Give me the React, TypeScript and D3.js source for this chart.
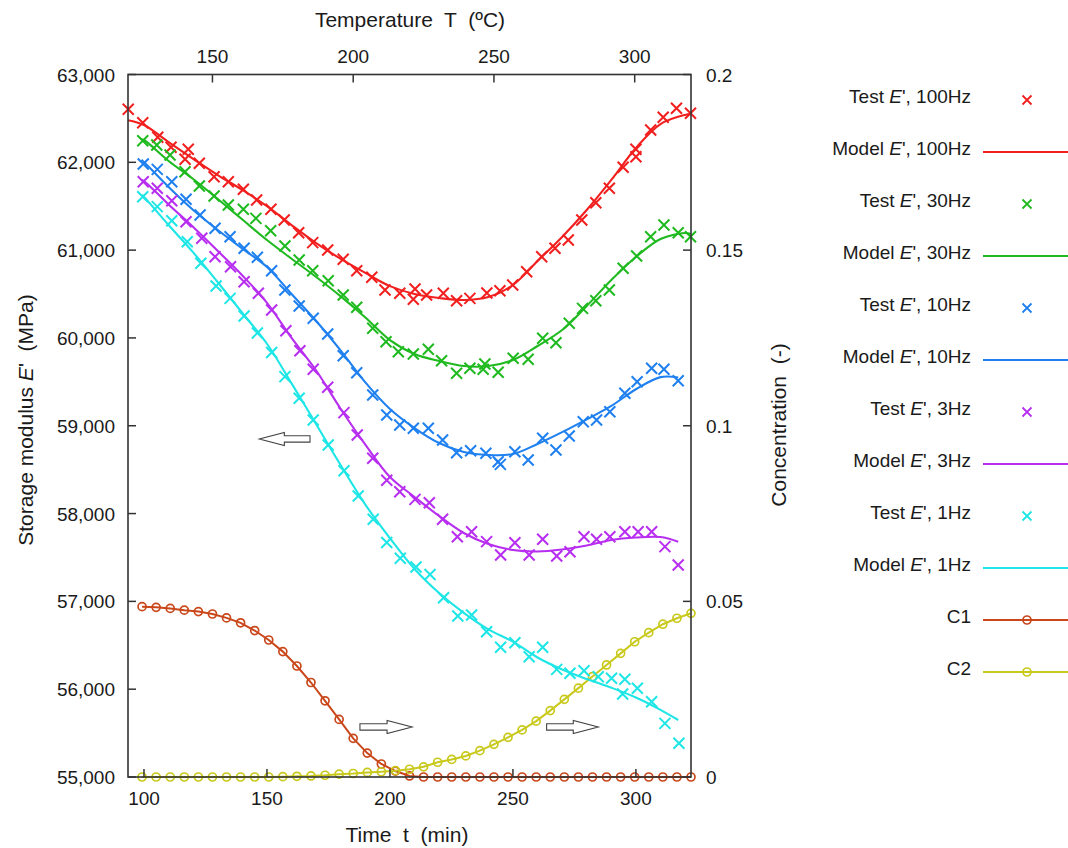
import React from "react";
import * as d3 from "d3";

// ---------- data ----------
const timeTicks = [100, 150, 200, 250, 300];
const tempTicks = [150, 200, 250, 300];
const eTicks = [55000, 56000, 57000, 58000, 59000, 60000, 61000, 62000, 63000];
const cTicks = [0, 0.05, 0.1, 0.15, 0.2];

const test100: [number, number][] = [
  [93.6, 62604], [99.5, 62451], [105.6, 62285], [111.0, 62171], [116.7, 62034], [118.0, 62148],
  [122.5, 61989], [128.5, 61836], [134.3, 61779], [140.4, 61693], [145.8, 61571], [151.6, 61465],
  [157.0, 61343], [162.9, 61198], [168.6, 61085], [174.7, 61001], [181.0, 60896], [186.5, 60766],
  [192.6, 60691], [198.0, 60546], [204.0, 60508], [209.5, 60440], [210.2, 60557], [214.9, 60489],
  [221.7, 60508], [227.1, 60424], [232.5, 60451], [239.4, 60512], [244.7, 60538], [249.9, 60603],
  [255.6, 60754], [261.7, 60925], [267.1, 61021], [272.5, 61115], [278.0, 61343], [283.7, 61540],
  [289.2, 61704], [294.8, 61943], [300.0, 62148], [300.0, 62064], [306.0, 62368], [311.1, 62513],
  [316.5, 62615], [322.2, 62558],
];
const model100: [number, number][] = [
  [93.5, 62480], [100, 62425], [110, 62230], [120, 62040], [130, 61855], [140, 61685], [150, 61500],
  [160, 61285], [170, 61080], [180, 60900], [190, 60740], [200, 60590], [210, 60500], [220, 60455],
  [230, 60432], [240, 60466], [250, 60603], [260, 60876], [270, 61150], [280, 61457], [290, 61800],
  [300, 62163], [310, 62436], [320, 62540], [322.3, 62550],
];

const test30: [number, number][] = [
  [99.5, 62246], [105.2, 62197], [110.6, 62083], [116.7, 61893], [122.5, 61730], [128.5, 61616],
  [134.3, 61514], [140.4, 61465], [145.5, 61362], [151.5, 61221], [157.3, 61047], [163.1, 60888],
  [168.6, 60766], [174.9, 60652], [181.0, 60489], [186.5, 60349], [193.0, 60110], [198.4, 59957],
  [203.4, 59843], [209.5, 59817], [215.6, 59871], [221.0, 59741], [227.1, 59597], [232.5, 59654],
  [237.9, 59643], [238.6, 59703], [244.0, 59609], [250.1, 59768], [256.2, 59757], [262.1, 59996],
  [267.5, 59946], [272.9, 60167], [278.3, 60337], [283.7, 60424], [289.2, 60546], [294.8, 60793],
  [300.3, 60933], [306.0, 61153], [311.4, 61286], [317.2, 61198], [322.2, 61153],
];
const model30: [number, number][] = [
  [98.5, 62266], [100, 62254], [110, 62015], [120, 61810], [130, 61582], [140, 61348], [150, 61115],
  [160, 60902], [170, 60694], [180, 60473], [190, 60233], [200, 59976], [210, 59817], [220, 59737],
  [230, 59680], [240, 59680], [250, 59749], [260, 59908], [270, 60090], [280, 60364], [290, 60660],
  [300, 60922], [310, 61127], [320, 61195], [322.3, 61184],
];

const test10: [number, number][] = [
  [99.7, 61981], [105.4, 61920], [111.3, 61779], [117.1, 61579], [122.8, 61400], [128.9, 61249],
  [135.0, 61153], [140.7, 61021], [146.1, 60918], [151.9, 60766], [157.3, 60546], [163.1, 60364],
  [168.8, 60224], [174.7, 60045], [181.0, 59797], [186.5, 59604], [193.0, 59350], [198.7, 59122],
  [204.0, 59009], [209.5, 58971], [215.6, 58971], [221.4, 58838], [227.1, 58693], [232.8, 58716],
  [239.0, 58686], [244.0, 58590], [244.9, 58560], [250.8, 58704], [256.2, 58610], [262.1, 58857],
  [267.5, 58724], [272.9, 58883], [278.6, 59046], [284.0, 59065], [289.4, 59160], [295.5, 59370],
  [300.5, 59502], [306.4, 59654], [311.4, 59643], [317.2, 59513],
];
const model10: [number, number][] = [
  [99, 62030], [100, 62004], [110, 61719], [120, 61457], [130, 61229], [140, 61018], [150, 60808],
  [160, 60500], [170, 60193], [180, 59856], [190, 59494], [200, 59191], [210, 58974], [220, 58803],
  [230, 58701], [240, 58667], [250, 58678], [260, 58792], [270, 58927], [280, 59073], [290, 59226],
  [300, 59416], [310, 59554], [317.2, 59550],
];

const test3: [number, number][] = [
  [99.7, 61779], [105.4, 61704], [111.3, 61563], [117.1, 61324], [123.5, 61135], [128.9, 60925],
  [135.2, 60811], [140.7, 60640], [146.5, 60508], [151.9, 60318], [157.7, 60081], [163.4, 59855],
  [168.8, 59643], [174.7, 59438], [181.3, 59149], [186.7, 58895], [193.0, 58629], [198.7, 58379],
  [204.0, 58249], [210.2, 58162], [216.0, 58124], [221.4, 57935], [227.4, 57736], [233.2, 57793],
  [239.3, 57680], [245.0, 57528], [250.8, 57668], [256.6, 57528], [262.1, 57707], [267.8, 57517],
  [273.2, 57566], [278.9, 57736], [284.0, 57707], [289.4, 57736], [295.5, 57793], [300.9, 57793],
  [306.4, 57793], [311.8, 57623], [317.2, 57414],
];
const model3: [number, number][] = [
  [99.1, 61797], [100, 61787], [110, 61520], [120, 61263], [130, 60990], [140, 60711], [150, 60400],
  [160, 60000], [170, 59629], [180, 59191], [190, 58784], [200, 58416], [210, 58189], [220, 57972],
  [230, 57779], [240, 57653], [250, 57585], [260, 57568], [270, 57591], [280, 57636], [290, 57699],
  [300, 57727], [310, 57733], [317.2, 57680],
];

const test1: [number, number][] = [
  [99.5, 61608], [105.4, 61495], [111.3, 61335], [117.6, 61096], [123.1, 60850], [129.3, 60591],
  [135.0, 60451], [140.7, 60250], [146.1, 60056], [151.9, 59834], [157.3, 59559], [163.1, 59313],
  [168.8, 59065], [174.9, 58781], [181.3, 58488], [187.1, 58200], [193.2, 57935], [198.7, 57670],
  [204.2, 57491], [210.6, 57391], [216.3, 57306], [221.8, 57041], [227.6, 56833], [233.2, 56845],
  [239.3, 56655], [245.0, 56477], [250.8, 56529], [256.6, 56370], [262.1, 56477], [267.8, 56226],
  [273.2, 56181], [278.9, 56210], [284.7, 56142], [290.1, 56124], [294.6, 55945], [295.5, 56113],
  [300.6, 56010], [306.4, 55857], [311.8, 55611], [317.5, 55384],
];
const model1: [number, number][] = [
  [99.1, 61625], [100, 61605], [110, 61286], [120, 60974], [130, 60634], [140, 60284], [150, 59934],
  [160, 59483], [170, 59018], [180, 58550], [190, 58102], [200, 57719], [210, 57369], [220, 57095],
  [230, 56870], [240, 56682], [250, 56541], [260, 56361], [270, 56224], [280, 56116], [290, 56017],
  [300, 55905], [310, 55765], [317.2, 55649],
];

// concentrations, sampled every 5 °C
const concTemps = [
  125, 130, 135, 140, 145, 150, 155, 160, 165, 170, 175, 180, 185, 190, 195, 200, 205, 210, 215, 220,
  225, 230, 235, 240, 245, 250, 255, 260, 265, 270, 275, 280, 285, 290, 295, 300, 305, 310, 315, 320,
];
const c1 = [
  0.0485, 0.0483, 0.048, 0.0475, 0.0471, 0.0464, 0.0453, 0.0439, 0.0417, 0.039, 0.0357, 0.0316,
  0.0269, 0.0217, 0.0164, 0.011, 0.0068, 0.0037, 0.0017, 0.0003, 0, 0, 0, 0, 0, 0, 0, 0, 0, 0, 0, 0,
  0, 0, 0, 0, 0, 0, 0, 0,
];
const c2 = [
  0, 0, 0, 0, 0, 0, 0, 0, 0, 0, 0.0001, 0.0002, 0.0003, 0.0005, 0.0008, 0.001, 0.0013, 0.0015,
  0.0018, 0.0022, 0.0029, 0.0042, 0.005, 0.006, 0.0075, 0.0093, 0.0113, 0.0134, 0.0159, 0.0189,
  0.0221, 0.0253, 0.0286, 0.0319, 0.0352, 0.0385, 0.0411, 0.0435, 0.0452, 0.0466,
];

// annotation arrows (time from -> time to, at a storage-modulus level)
const arrows = [
  { from: 167.5, to: 146.9, e: 58850 },
  { from: 187.8, to: 209.0, e: 55570 },
  { from: 263.7, to: 284.7, e: 55570 },
];

const COL = {
  r: "#f21f1f",
  g: "#1fba1f",
  b: "#1f80f0",
  p: "#b82ef0",
  c: "#1ee6e6",
  c1: "#c9471a",
  c2: "#c9c91c",
};

const series = [
  { test: test100, model: model100, color: COL.r, hz: "100Hz" },
  { test: test30, model: model30, color: COL.g, hz: "30Hz" },
  { test: test10, model: model10, color: COL.b, hz: "10Hz" },
  { test: test3, model: model3, color: COL.p, hz: "3Hz" },
  { test: test1, model: model1, color: COL.c, hz: "1Hz" },
];

// ---------- layout ----------
const W = 1068;
const H = 848;
const PL = 128;
const PR = 691;
const PT = 74.5;
const PB = 777;
const FONT = "'Liberation Sans', Arial, Helvetica, sans-serif";
const AX = "#333";
const TXT = "#1a1a1a";

const xTime = d3.scaleLinear().domain([93.5, 322.4]).range([PL, PR]);
const xTemp = d3.scaleLinear().domain([120, 320]).range([PL, PR]);
const yE = d3.scaleLinear().domain([55000, 63000]).range([PB, PT]);
const yC = d3.scaleLinear().domain([0, 0.2]).range([PB, PT]);

const modelLine = d3
  .line<[number, number]>()
  .x((d) => xTime(d[0]))
  .y((d) => yE(d[1]))
  .curve(d3.curveCatmullRom.alpha(0.5));

const concLine = d3
  .line<number>()
  .x((_, i) => xTemp(concTemps[i]))
  .y((d) => yC(d));

const fmtE = d3.format(",");

const Cross = ({ x, y, color, s = 5.5, w = 2 }: { x: number; y: number; color: string; s?: number; w?: number }) => (
  <path
    d={`M${x - s},${y - s}L${x + s},${y + s}M${x - s},${y + s}L${x + s},${y - s}`}
    stroke={color}
    strokeWidth={w}
    fill="none"
  />
);

function arrowPath(x0: number, x1: number, y: number) {
  const dir = Math.sign(x1 - x0);
  const head = 25;
  const hb = x1 - dir * head;
  const sh = 3.2;
  const hh = 6.5;
  return `M${x0},${y - sh}L${hb},${y - sh}L${hb},${y - hh}L${x1},${y}L${hb},${y + hh}L${hb},${y + sh}L${x0},${y + sh}Z`;
}

const legendItems: { label: string; prefix: string; kind: string; color: string }[] = [];
series.forEach((s) => {
  legendItems.push({ label: s.hz, prefix: "Test", kind: "x", color: s.color });
  legendItems.push({ label: s.hz, prefix: "Model", kind: "line", color: s.color });
});

export default function App() {
  const legY0 = 100;
  const legDy = 52;
  return (
    <svg
      width={W}
      height={H}
      viewBox={`0 0 ${W} ${H}`}
      style={{ position: "absolute", left: 0, top: 0, background: "#fff" }}
      fontFamily={FONT}
    >
      <rect x={0} y={0} width={W} height={H} fill="#fff" />

      {/* concentration curves */}
      <path d={concLine(c1) || ""} fill="none" stroke={COL.c1} strokeWidth={2} />
      {c1.map((v, i) => (
        <circle key={"c1" + i} cx={xTemp(concTemps[i])} cy={yC(v)} r={4} fill="none" stroke={COL.c1} strokeWidth={1.7} />
      ))}
      <path d={concLine(c2) || ""} fill="none" stroke={COL.c2} strokeWidth={2} />
      {c2.map((v, i) => (
        <circle key={"c2" + i} cx={xTemp(concTemps[i])} cy={yC(v)} r={4} fill="none" stroke={COL.c2} strokeWidth={1.7} />
      ))}

      {/* modulus series */}
      {series.map((s, si) => (
        <g key={"s" + si}>
          {s.test.map((d, i) => (
            <Cross key={i} x={xTime(d[0])} y={yE(d[1])} color={s.color} />
          ))}
          <path d={modelLine(s.model) || ""} fill="none" stroke={s.color} strokeWidth={2.1} />
        </g>
      ))}

      {/* arrows */}
      {arrows.map((a, i) => (
        <path key={"a" + i} d={arrowPath(xTime(a.from), xTime(a.to), yE(a.e))} fill="#fff" stroke="#444" strokeWidth={1.1} />
      ))}

      {/* frame */}
      <rect x={PL} y={PT} width={PR - PL} height={PB - PT} fill="none" stroke={AX} strokeWidth={1.6} />

      {/* left axis */}
      {eTicks.map((v) => (
        <g key={"e" + v}>
          <line x1={PL} x2={PL + 8} y1={yE(v)} y2={yE(v)} stroke={AX} strokeWidth={1.5} />
          <text x={115} y={yE(v) + 7} textAnchor="end" fontSize={19} fill={TXT}>
            {fmtE(v)}
          </text>
        </g>
      ))}
      {/* right axis */}
      {cTicks.map((v) => (
        <g key={"c" + v}>
          <line x1={PR - 8} x2={PR} y1={yC(v)} y2={yC(v)} stroke={AX} strokeWidth={1.5} />
          <text x={706} y={yC(v) + 7} textAnchor="start" fontSize={19} fill={TXT}>
            {String(v)}
          </text>
        </g>
      ))}
      {/* bottom axis */}
      {timeTicks.map((v) => (
        <g key={"t" + v}>
          <line x1={xTime(v)} x2={xTime(v)} y1={PB} y2={PB - 8} stroke={AX} strokeWidth={1.5} />
          <text x={xTime(v)} y={805} textAnchor="middle" fontSize={19} fill={TXT}>
            {v}
          </text>
        </g>
      ))}
      {/* top axis */}
      {tempTicks.map((v) => (
        <g key={"T" + v}>
          <line x1={xTemp(v)} x2={xTemp(v)} y1={PT} y2={PT + 8} stroke={AX} strokeWidth={1.5} />
          <text x={xTemp(v)} y={63} textAnchor="middle" fontSize={19} fill={TXT}>
            {v}
          </text>
        </g>
      ))}

      {/* axis titles */}
      <text x={410} y={27} textAnchor="middle" fontSize={21} fill={TXT} style={{ whiteSpace: "pre" }}>
        {"Temperature  T  (ºC)"}
      </text>
      <text x={407} y={842} textAnchor="middle" fontSize={21} fill={TXT} style={{ whiteSpace: "pre" }}>
        {"Time  t  (min)"}
      </text>
      <text
        transform={`translate(33,420) rotate(-90)`}
        textAnchor="middle"
        fontSize={21}
        fill={TXT}
        style={{ whiteSpace: "pre" }}
      >
        <tspan>{"Storage modulus "}</tspan>
        <tspan fontStyle="italic">E</tspan>
        <tspan>{"'  (MPa)"}</tspan>
      </text>
      <text
        transform={`translate(786,425) rotate(-90)`}
        textAnchor="middle"
        fontSize={21}
        fill={TXT}
        style={{ whiteSpace: "pre" }}
      >
        {"Concentration  (-)"}
      </text>

      {/* legend */}
      {legendItems.map((it, i) => {
        const y = legY0 + i * legDy;
        return (
          <g key={"l" + i}>
            <text x={971} y={y + 3} textAnchor="end" fontSize={19} fill={TXT} style={{ whiteSpace: "pre" }}>
              <tspan>{it.prefix + " "}</tspan>
              <tspan fontStyle="italic">E</tspan>
              <tspan>{"', " + it.label}</tspan>
            </text>
            {it.kind === "x" ? (
              <Cross x={1027} y={y} color={it.color} s={4.5} w={1.8} />
            ) : (
              <line x1={983} x2={1068} y1={y} y2={y} stroke={it.color} strokeWidth={2} />
            )}
          </g>
        );
      })}
      {[
        { name: "C1", color: COL.c1 },
        { name: "C2", color: COL.c2 },
      ].map((it, j) => {
        const y = legY0 + (legendItems.length + j) * legDy;
        return (
          <g key={"lc" + j}>
            <text x={971} y={y + 3} textAnchor="end" fontSize={19} fill={TXT}>
              {it.name}
            </text>
            <line x1={983} x2={1068} y1={y} y2={y} stroke={it.color} strokeWidth={2} />
            <circle cx={1027} cy={y} r={4} fill="none" stroke={it.color} strokeWidth={1.7} />
          </g>
        );
      })}
    </svg>
  );
}
